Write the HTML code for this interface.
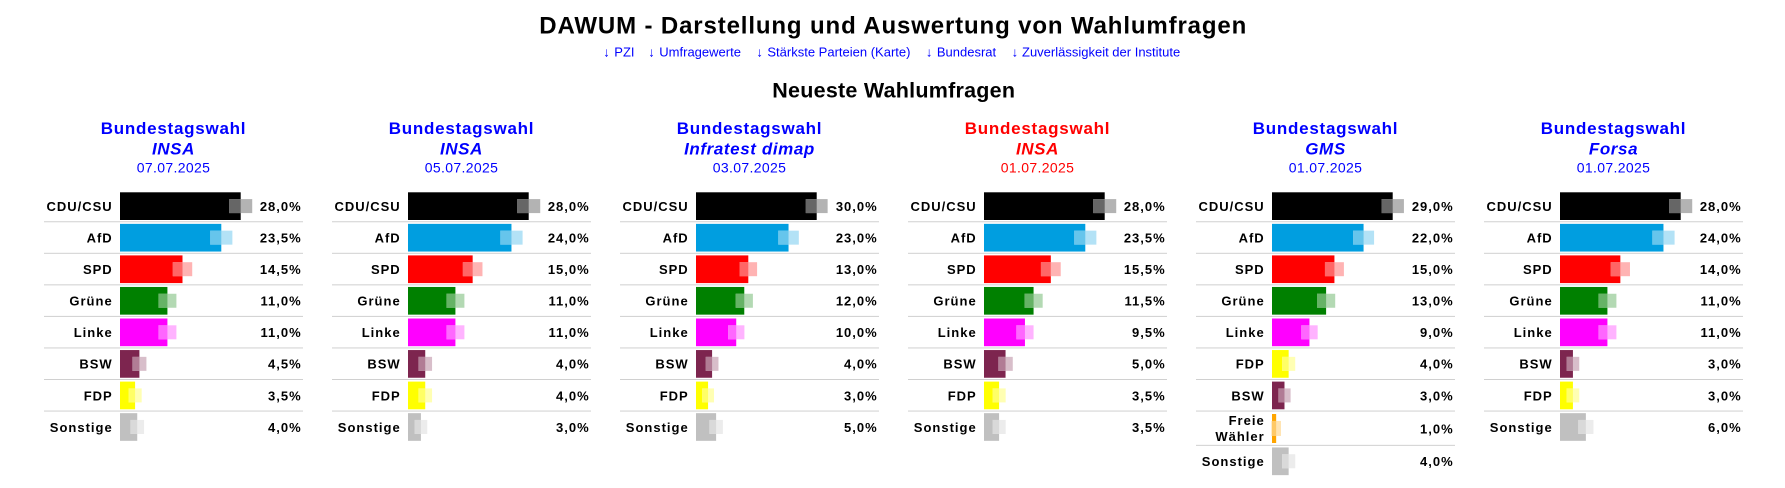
<!DOCTYPE html>
<html><head><meta charset="utf-8">
<style>
html,body{margin:0;padding:0;background:#fff;}
svg{display:block;}
text{font-family:"Liberation Sans",Arial,sans-serif;}
.t{font-weight:bold;font-size:24px;fill:#000;}
.nw{font-weight:bold;font-size:21.5px;fill:#000;}
.lk{font-size:13px;fill:#0000ff;}
.h{font-weight:bold;font-size:17px;letter-spacing:0.75px;text-anchor:middle;fill:#0000ff;}
.hi{font-weight:bold;font-style:italic;font-size:17px;letter-spacing:0.6px;text-anchor:middle;fill:#0000ff;}
.hd{font-size:14px;letter-spacing:0.35px;text-anchor:middle;fill:#0000ff;}
.red .h,.red .hi,.red .hd{fill:#ff0000;}
.l{font-weight:bold;font-size:13px;letter-spacing:1px;text-anchor:end;fill:#000;}
.s{fill:#d0d0d0}
.k{fill:#000}.ki{fill:#666}.ko{fill:#b3b3b3}
.a{fill:#009ee0}.ai{fill:#66c5ec}.ao{fill:#b3e2f6}
.r{fill:#f00}.ri{fill:#f66}.ro{fill:#ffb3b3}
.g{fill:#008000}.gi{fill:#66b366}.go{fill:#b3d9b3}
.m{fill:#f0f}.mi{fill:#f6f}.mo{fill:#ffb3ff}
.w{fill:#7d254f}.wi{fill:#b17c95}.wo{fill:#d8beca}
.y{fill:#ff0}.yi{fill:#ff6}.yo{fill:#ffffb3}
.n{fill:#c0c0c0}.ni{fill:#d9d9d9}.no{fill:#ececec}
.f{fill:#ffa500}.fi{fill:#ffc966}.fo{fill:#ffe4b3}
</style></head>
<body>
<svg width="1785" height="488" viewBox="0 0 1785 488" xmlns="http://www.w3.org/2000/svg">
<rect width="1785" height="488" fill="#fff"/>

<text class="t" x="539.3" y="33.3" textLength="707" lengthAdjust="spacing">DAWUM - Darstellung und Auswertung von Wahlumfragen</text>

<text class="lk" y="56.7"><tspan x="603.3">↓</tspan><tspan x="614.3">PZI</tspan></text>
<text class="lk" y="56.7"><tspan x="648.3">↓</tspan><tspan x="659.3">Umfragewerte</tspan></text>
<text class="lk" y="56.7"><tspan x="756.4">↓</tspan><tspan x="767.4">Stärkste Parteien (Karte)</tspan></text>
<text class="lk" y="56.7"><tspan x="925.9">↓</tspan><tspan x="936.9">Bundesrat</tspan></text>
<text class="lk" y="56.7"><tspan x="1011.6">↓</tspan><tspan x="1022">Zuverlässigkeit der Institute</tspan></text>

<text class="nw" x="772.3" y="97.7" textLength="242.7" lengthAdjust="spacing">Neueste Wahlumfragen</text>

<!-- Panel 1 -->
<g transform="translate(44,0)">
<text class="h" x="129.5" y="134">Bundestagswahl</text>
<text class="hi" x="129.5" y="154.3">INSA</text>
<text class="hd" x="129.5" y="172.7">07.07.2025</text>
<g transform="translate(0,190.2)"><text class="l" x="68.7" y="20.8">CDU/CSU</text><rect class="k" x="76" y="2.1" width="120.7" height="27.7"/><rect class="ko" x="185.17" y="8.9" width="23.06" height="14"/><rect class="ki" x="185.17" y="8.9" width="11.53" height="14"/><text class="l" x="257.7" y="20.8">28,0%</text></g>
<g transform="translate(0,221.75)"><rect class="s" y="-.5" width="259" height="1"/><text class="l" x="68.7" y="20.8">AfD</text><rect class="a" x="76" y="2.1" width="101.3" height="27.7"/><rect class="ao" x="166.23" y="8.9" width="22.14" height="14"/><rect class="ai" x="166.23" y="8.9" width="11.07" height="14"/><text class="l" x="257.7" y="20.8">23,5%</text></g>
<g transform="translate(0,253.3)"><rect class="s" y="-.5" width="259" height="1"/><text class="l" x="68.7" y="20.8">SPD</text><rect class="r" x="76" y="2.1" width="62.5" height="27.7"/><rect class="ro" x="128.78" y="8.9" width="19.44" height="14"/><rect class="ri" x="128.78" y="8.9" width="9.72" height="14"/><text class="l" x="257.7" y="20.8">14,5%</text></g>
<g transform="translate(0,284.85)"><rect class="s" y="-.5" width="259" height="1"/><text class="l" x="68.7" y="20.8">Grüne</text><rect class="g" x="76" y="2.1" width="47.42" height="27.7"/><rect class="go" x="114.43" y="8.9" width="17.98" height="14"/><rect class="gi" x="114.43" y="8.9" width="8.99" height="14"/><text class="l" x="257.7" y="20.8">11,0%</text></g>
<g transform="translate(0,316.4)"><rect class="s" y="-.5" width="259" height="1"/><text class="l" x="68.7" y="20.8">Linke</text><rect class="m" x="76" y="2.1" width="47.42" height="27.7"/><rect class="mo" x="114.43" y="8.9" width="17.98" height="14"/><rect class="mi" x="114.43" y="8.9" width="8.99" height="14"/><text class="l" x="257.7" y="20.8">11,0%</text></g>
<g transform="translate(0,347.95)"><rect class="s" y="-.5" width="259" height="1"/><text class="l" x="68.7" y="20.8">BSW</text><rect class="w" x="76" y="2.1" width="19.4" height="27.7"/><rect class="wo" x="88.38" y="8.9" width="14.04" height="14"/><rect class="wi" x="88.38" y="8.9" width="7.02" height="14"/><text class="l" x="257.7" y="20.8">4,5%</text></g>
<g transform="translate(0,379.5)"><rect class="s" y="-.5" width="259" height="1"/><text class="l" x="68.7" y="20.8">FDP</text><rect class="y" x="76" y="2.1" width="15.09" height="27.7"/><rect class="yo" x="84.5" y="8.9" width="13.18" height="14"/><rect class="yi" x="84.5" y="8.9" width="6.59" height="14"/><text class="l" x="257.7" y="20.8">3,5%</text></g>
<g transform="translate(0,411.05)"><rect class="s" y="-.5" width="259" height="1"/><text class="l" x="68.7" y="20.8">Sonstige</text><rect class="n" x="76" y="2.1" width="17.24" height="27.7"/><rect class="no" x="86.42" y="8.9" width="13.64" height="14"/><rect class="ni" x="86.42" y="8.9" width="6.82" height="14"/><text class="l" x="257.7" y="20.8">4,0%</text></g>
</g>

<!-- Panel 2 -->
<g transform="translate(332,0)">
<text class="h" x="129.5" y="134">Bundestagswahl</text>
<text class="hi" x="129.5" y="154.3">INSA</text>
<text class="hd" x="129.5" y="172.7">05.07.2025</text>
<g transform="translate(0,190.2)"><text class="l" x="68.7" y="20.8">CDU/CSU</text><rect class="k" x="76" y="2.1" width="120.7" height="27.7"/><rect class="ko" x="185.17" y="8.9" width="23.06" height="14"/><rect class="ki" x="185.17" y="8.9" width="11.53" height="14"/><text class="l" x="257.7" y="20.8">28,0%</text></g>
<g transform="translate(0,221.75)"><rect class="s" y="-.5" width="259" height="1"/><text class="l" x="68.7" y="20.8">AfD</text><rect class="a" x="76" y="2.1" width="103.46" height="27.7"/><rect class="ao" x="168.33" y="8.9" width="22.26" height="14"/><rect class="ai" x="168.33" y="8.9" width="11.13" height="14"/><text class="l" x="257.7" y="20.8">24,0%</text></g>
<g transform="translate(0,253.3)"><rect class="s" y="-.5" width="259" height="1"/><text class="l" x="68.7" y="20.8">SPD</text><rect class="r" x="76" y="2.1" width="64.66" height="27.7"/><rect class="ro" x="130.85" y="8.9" width="19.62" height="14"/><rect class="ri" x="130.85" y="8.9" width="9.81" height="14"/><text class="l" x="257.7" y="20.8">15,0%</text></g>
<g transform="translate(0,284.85)"><rect class="s" y="-.5" width="259" height="1"/><text class="l" x="68.7" y="20.8">Grüne</text><rect class="g" x="76" y="2.1" width="47.42" height="27.7"/><rect class="go" x="114.43" y="8.9" width="17.98" height="14"/><rect class="gi" x="114.43" y="8.9" width="8.99" height="14"/><text class="l" x="257.7" y="20.8">11,0%</text></g>
<g transform="translate(0,316.4)"><rect class="s" y="-.5" width="259" height="1"/><text class="l" x="68.7" y="20.8">Linke</text><rect class="m" x="76" y="2.1" width="47.42" height="27.7"/><rect class="mo" x="114.43" y="8.9" width="17.98" height="14"/><rect class="mi" x="114.43" y="8.9" width="8.99" height="14"/><text class="l" x="257.7" y="20.8">11,0%</text></g>
<g transform="translate(0,347.95)"><rect class="s" y="-.5" width="259" height="1"/><text class="l" x="68.7" y="20.8">BSW</text><rect class="w" x="76" y="2.1" width="17.24" height="27.7"/><rect class="wo" x="86.42" y="8.9" width="13.64" height="14"/><rect class="wi" x="86.42" y="8.9" width="6.82" height="14"/><text class="l" x="257.7" y="20.8">4,0%</text></g>
<g transform="translate(0,379.5)"><rect class="s" y="-.5" width="259" height="1"/><text class="l" x="68.7" y="20.8">FDP</text><rect class="y" x="76" y="2.1" width="17.24" height="27.7"/><rect class="yo" x="86.42" y="8.9" width="13.64" height="14"/><rect class="yi" x="86.42" y="8.9" width="6.82" height="14"/><text class="l" x="257.7" y="20.8">4,0%</text></g>
<g transform="translate(0,411.05)"><rect class="s" y="-.5" width="259" height="1"/><text class="l" x="68.7" y="20.8">Sonstige</text><rect class="n" x="76" y="2.1" width="12.93" height="27.7"/><rect class="no" x="82.59" y="8.9" width="12.68" height="14"/><rect class="ni" x="82.59" y="8.9" width="6.34" height="14"/><text class="l" x="257.7" y="20.8">3,0%</text></g>
</g>

<!-- Panel 3 -->
<g transform="translate(620,0)">
<text class="h" x="129.5" y="134">Bundestagswahl</text>
<text class="hi" x="129.5" y="154.3">Infratest dimap</text>
<text class="hd" x="129.5" y="172.7">03.07.2025</text>
<g transform="translate(0,190.2)"><text class="l" x="68.7" y="20.8">CDU/CSU</text><rect class="k" x="76" y="2.1" width="120.7" height="27.7"/><rect class="ko" x="185.77" y="8.9" width="21.86" height="14"/><rect class="ki" x="185.77" y="8.9" width="10.93" height="14"/><text class="l" x="257.7" y="20.8">30,0%</text></g>
<g transform="translate(0,221.75)"><rect class="s" y="-.5" width="259" height="1"/><text class="l" x="68.7" y="20.8">AfD</text><rect class="a" x="76" y="2.1" width="92.54" height="27.7"/><rect class="ao" x="158.27" y="8.9" width="20.55" height="14"/><rect class="ai" x="158.27" y="8.9" width="10.27" height="14"/><text class="l" x="257.7" y="20.8">23,0%</text></g>
<g transform="translate(0,253.3)"><rect class="s" y="-.5" width="259" height="1"/><text class="l" x="68.7" y="20.8">SPD</text><rect class="r" x="76" y="2.1" width="52.3" height="27.7"/><rect class="ro" x="119.5" y="8.9" width="17.59" height="14"/><rect class="ri" x="119.5" y="8.9" width="8.8" height="14"/><text class="l" x="257.7" y="20.8">13,0%</text></g>
<g transform="translate(0,284.85)"><rect class="s" y="-.5" width="259" height="1"/><text class="l" x="68.7" y="20.8">Grüne</text><rect class="g" x="76" y="2.1" width="48.28" height="27.7"/><rect class="go" x="115.67" y="8.9" width="17.22" height="14"/><rect class="gi" x="115.67" y="8.9" width="8.61" height="14"/><text class="l" x="257.7" y="20.8">12,0%</text></g>
<g transform="translate(0,316.4)"><rect class="s" y="-.5" width="259" height="1"/><text class="l" x="68.7" y="20.8">Linke</text><rect class="m" x="76" y="2.1" width="40.23" height="27.7"/><rect class="mo" x="108.06" y="8.9" width="16.34" height="14"/><rect class="mi" x="108.06" y="8.9" width="8.17" height="14"/><text class="l" x="257.7" y="20.8">10,0%</text></g>
<g transform="translate(0,347.95)"><rect class="s" y="-.5" width="259" height="1"/><text class="l" x="68.7" y="20.8">BSW</text><rect class="w" x="76" y="2.1" width="16.09" height="27.7"/><rect class="wo" x="85.73" y="8.9" width="12.73" height="14"/><rect class="wi" x="85.73" y="8.9" width="6.36" height="14"/><text class="l" x="257.7" y="20.8">4,0%</text></g>
<g transform="translate(0,379.5)"><rect class="s" y="-.5" width="259" height="1"/><text class="l" x="68.7" y="20.8">FDP</text><rect class="y" x="76" y="2.1" width="12.07" height="27.7"/><rect class="yo" x="82.16" y="8.9" width="11.83" height="14"/><rect class="yi" x="82.16" y="8.9" width="5.91" height="14"/><text class="l" x="257.7" y="20.8">3,0%</text></g>
<g transform="translate(0,411.05)"><rect class="s" y="-.5" width="259" height="1"/><text class="l" x="68.7" y="20.8">Sonstige</text><rect class="n" x="76" y="2.1" width="20.12" height="27.7"/><rect class="no" x="89.38" y="8.9" width="13.47" height="14"/><rect class="ni" x="89.38" y="8.9" width="6.74" height="14"/><text class="l" x="257.7" y="20.8">5,0%</text></g>
</g>

<!-- Panel 4 (red) -->
<g transform="translate(908,0)" class="red">
<text class="h" x="129.5" y="134">Bundestagswahl</text>
<text class="hi" x="129.5" y="154.3">INSA</text>
<text class="hd" x="129.5" y="172.7">01.07.2025</text>
<g transform="translate(0,190.2)"><text class="l" x="68.7" y="20.8">CDU/CSU</text><rect class="k" x="76" y="2.1" width="120.7" height="27.7"/><rect class="ko" x="185.17" y="8.9" width="23.06" height="14"/><rect class="ki" x="185.17" y="8.9" width="11.53" height="14"/><text class="l" x="257.7" y="20.8">28,0%</text></g>
<g transform="translate(0,221.75)"><rect class="s" y="-.5" width="259" height="1"/><text class="l" x="68.7" y="20.8">AfD</text><rect class="a" x="76" y="2.1" width="101.3" height="27.7"/><rect class="ao" x="166.23" y="8.9" width="22.14" height="14"/><rect class="ai" x="166.23" y="8.9" width="11.07" height="14"/><text class="l" x="257.7" y="20.8">23,5%</text></g>
<g transform="translate(0,253.3)"><rect class="s" y="-.5" width="259" height="1"/><text class="l" x="68.7" y="20.8">SPD</text><rect class="r" x="76" y="2.1" width="66.82" height="27.7"/><rect class="ro" x="132.92" y="8.9" width="19.8" height="14"/><rect class="ri" x="132.92" y="8.9" width="9.9" height="14"/><text class="l" x="257.7" y="20.8">15,5%</text></g>
<g transform="translate(0,284.85)"><rect class="s" y="-.5" width="259" height="1"/><text class="l" x="68.7" y="20.8">Grüne</text><rect class="g" x="76" y="2.1" width="49.57" height="27.7"/><rect class="go" x="116.47" y="8.9" width="18.2" height="14"/><rect class="gi" x="116.47" y="8.9" width="9.1" height="14"/><text class="l" x="257.7" y="20.8">11,5%</text></g>
<g transform="translate(0,316.4)"><rect class="s" y="-.5" width="259" height="1"/><text class="l" x="68.7" y="20.8">Linke</text><rect class="m" x="76" y="2.1" width="40.95" height="27.7"/><rect class="mo" x="108.33" y="8.9" width="17.24" height="14"/><rect class="mi" x="108.33" y="8.9" width="8.62" height="14"/><text class="l" x="257.7" y="20.8">9,5%</text></g>
<g transform="translate(0,347.95)"><rect class="s" y="-.5" width="259" height="1"/><text class="l" x="68.7" y="20.8">BSW</text><rect class="w" x="76" y="2.1" width="21.55" height="27.7"/><rect class="wo" x="90.33" y="8.9" width="14.44" height="14"/><rect class="wi" x="90.33" y="8.9" width="7.22" height="14"/><text class="l" x="257.7" y="20.8">5,0%</text></g>
<g transform="translate(0,379.5)"><rect class="s" y="-.5" width="259" height="1"/><text class="l" x="68.7" y="20.8">FDP</text><rect class="y" x="76" y="2.1" width="15.09" height="27.7"/><rect class="yo" x="84.5" y="8.9" width="13.18" height="14"/><rect class="yi" x="84.5" y="8.9" width="6.59" height="14"/><text class="l" x="257.7" y="20.8">3,5%</text></g>
<g transform="translate(0,411.05)"><rect class="s" y="-.5" width="259" height="1"/><text class="l" x="68.7" y="20.8">Sonstige</text><rect class="n" x="76" y="2.1" width="15.09" height="27.7"/><rect class="no" x="84.5" y="8.9" width="13.18" height="14"/><rect class="ni" x="84.5" y="8.9" width="6.59" height="14"/><text class="l" x="257.7" y="20.8">3,5%</text></g>
</g>

<!-- Panel 5 (GMS) -->
<g transform="translate(1196,0)">
<text class="h" x="129.5" y="134">Bundestagswahl</text>
<text class="hi" x="129.5" y="154.3">GMS</text>
<text class="hd" x="129.5" y="172.7">01.07.2025</text>
<g transform="translate(0,190.2)"><text class="l" x="68.7" y="20.8">CDU/CSU</text><rect class="k" x="76" y="2.1" width="120.7" height="27.7"/><rect class="ko" x="185.48" y="8.9" width="22.44" height="14"/><rect class="ki" x="185.48" y="8.9" width="11.22" height="14"/><text class="l" x="257.7" y="20.8">29,0%</text></g>
<g transform="translate(0,221.75)"><rect class="s" y="-.5" width="259" height="1"/><text class="l" x="68.7" y="20.8">AfD</text><rect class="a" x="76" y="2.1" width="91.57" height="27.7"/><rect class="ao" x="157.06" y="8.9" width="21.02" height="14"/><rect class="ai" x="157.06" y="8.9" width="10.51" height="14"/><text class="l" x="257.7" y="20.8">22,0%</text></g>
<g transform="translate(0,253.3)"><rect class="s" y="-.5" width="259" height="1"/><text class="l" x="68.7" y="20.8">SPD</text><rect class="r" x="76" y="2.1" width="62.43" height="27.7"/><rect class="ro" x="128.95" y="8.9" width="18.95" height="14"/><rect class="ri" x="128.95" y="8.9" width="9.48" height="14"/><text class="l" x="257.7" y="20.8">15,0%</text></g>
<g transform="translate(0,284.85)"><rect class="s" y="-.5" width="259" height="1"/><text class="l" x="68.7" y="20.8">Grüne</text><rect class="g" x="76" y="2.1" width="54.11" height="27.7"/><rect class="go" x="121.01" y="8.9" width="18.2" height="14"/><rect class="gi" x="121.01" y="8.9" width="9.1" height="14"/><text class="l" x="257.7" y="20.8">13,0%</text></g>
<g transform="translate(0,316.4)"><rect class="s" y="-.5" width="259" height="1"/><text class="l" x="68.7" y="20.8">Linke</text><rect class="m" x="76" y="2.1" width="37.46" height="27.7"/><rect class="mo" x="105.25" y="8.9" width="16.42" height="14"/><rect class="mi" x="105.25" y="8.9" width="8.21" height="14"/><text class="l" x="257.7" y="20.8">9,0%</text></g>
<g transform="translate(0,347.95)"><rect class="s" y="-.5" width="259" height="1"/><text class="l" x="68.7" y="20.8">FDP</text><rect class="y" x="76" y="2.1" width="16.65" height="27.7"/><rect class="yo" x="86.07" y="8.9" width="13.16" height="14"/><rect class="yi" x="86.07" y="8.9" width="6.58" height="14"/><text class="l" x="257.7" y="20.8">4,0%</text></g>
<g transform="translate(0,379.5)"><rect class="s" y="-.5" width="259" height="1"/><text class="l" x="68.7" y="20.8">BSW</text><rect class="w" x="76" y="2.1" width="12.49" height="27.7"/><rect class="wo" x="82.37" y="8.9" width="12.23" height="14"/><rect class="wi" x="82.37" y="8.9" width="6.12" height="14"/><text class="l" x="257.7" y="20.8">3,0%</text></g>
<g transform="translate(0,411.05)"><rect class="s" y="-.5" width="259" height="1"/><text class="l" x="68.7" y="13.95">Freie</text><text class="l" x="68.7" y="29.95">Wähler</text><rect class="f" x="76" y="2.95" width="4.16" height="29"/><rect class="fo" x="75.32" y="9.9" width="9.68" height="15"/><rect class="fi" x="76" y="9.9" width="4.16" height="15"/><text class="l" x="257.7" y="22.25">1,0%</text></g>
<g transform="translate(0,445.35)"><rect class="s" y="-.5" width="259" height="1"/><text class="l" x="68.7" y="20.8">Sonstige</text><rect class="n" x="76" y="2.1" width="16.65" height="27.7"/><rect class="no" x="86.07" y="8.9" width="13.16" height="14"/><rect class="ni" x="86.07" y="8.9" width="6.58" height="14"/><text class="l" x="257.7" y="20.8">4,0%</text></g>
</g>

<!-- Panel 6 (Forsa) -->
<g transform="translate(1484,0)">
<text class="h" x="129.5" y="134">Bundestagswahl</text>
<text class="hi" x="129.5" y="154.3">Forsa</text>
<text class="hd" x="129.5" y="172.7">01.07.2025</text>
<g transform="translate(0,190.2)"><text class="l" x="68.7" y="20.8">CDU/CSU</text><rect class="k" x="76" y="2.1" width="120.7" height="27.7"/><rect class="ko" x="185.17" y="8.9" width="23.06" height="14"/><rect class="ki" x="185.17" y="8.9" width="11.53" height="14"/><text class="l" x="257.7" y="20.8">28,0%</text></g>
<g transform="translate(0,221.75)"><rect class="s" y="-.5" width="259" height="1"/><text class="l" x="68.7" y="20.8">AfD</text><rect class="a" x="76" y="2.1" width="103.46" height="27.7"/><rect class="ao" x="168.33" y="8.9" width="22.26" height="14"/><rect class="ai" x="168.33" y="8.9" width="11.13" height="14"/><text class="l" x="257.7" y="20.8">24,0%</text></g>
<g transform="translate(0,253.3)"><rect class="s" y="-.5" width="259" height="1"/><text class="l" x="68.7" y="20.8">SPD</text><rect class="r" x="76" y="2.1" width="60.35" height="27.7"/><rect class="ro" x="126.73" y="8.9" width="19.24" height="14"/><rect class="ri" x="126.73" y="8.9" width="9.62" height="14"/><text class="l" x="257.7" y="20.8">14,0%</text></g>
<g transform="translate(0,284.85)"><rect class="s" y="-.5" width="259" height="1"/><text class="l" x="68.7" y="20.8">Grüne</text><rect class="g" x="76" y="2.1" width="47.42" height="27.7"/><rect class="go" x="114.43" y="8.9" width="17.98" height="14"/><rect class="gi" x="114.43" y="8.9" width="8.99" height="14"/><text class="l" x="257.7" y="20.8">11,0%</text></g>
<g transform="translate(0,316.4)"><rect class="s" y="-.5" width="259" height="1"/><text class="l" x="68.7" y="20.8">Linke</text><rect class="m" x="76" y="2.1" width="47.42" height="27.7"/><rect class="mo" x="114.43" y="8.9" width="17.98" height="14"/><rect class="mi" x="114.43" y="8.9" width="8.99" height="14"/><text class="l" x="257.7" y="20.8">11,0%</text></g>
<g transform="translate(0,347.95)"><rect class="s" y="-.5" width="259" height="1"/><text class="l" x="68.7" y="20.8">BSW</text><rect class="w" x="76" y="2.1" width="12.93" height="27.7"/><rect class="wo" x="82.59" y="8.9" width="12.68" height="14"/><rect class="wi" x="82.59" y="8.9" width="6.34" height="14"/><text class="l" x="257.7" y="20.8">3,0%</text></g>
<g transform="translate(0,379.5)"><rect class="s" y="-.5" width="259" height="1"/><text class="l" x="68.7" y="20.8">FDP</text><rect class="y" x="76" y="2.1" width="12.93" height="27.7"/><rect class="yo" x="82.59" y="8.9" width="12.68" height="14"/><rect class="yi" x="82.59" y="8.9" width="6.34" height="14"/><text class="l" x="257.7" y="20.8">3,0%</text></g>
<g transform="translate(0,411.05)"><rect class="s" y="-.5" width="259" height="1"/><text class="l" x="68.7" y="20.8">Sonstige</text><rect class="n" x="76" y="2.1" width="25.86" height="27.7"/><rect class="no" x="94.28" y="8.9" width="15.16" height="14"/><rect class="ni" x="94.28" y="8.9" width="7.58" height="14"/><text class="l" x="257.7" y="20.8">6,0%</text></g>
</g>
</svg>
</body></html>
